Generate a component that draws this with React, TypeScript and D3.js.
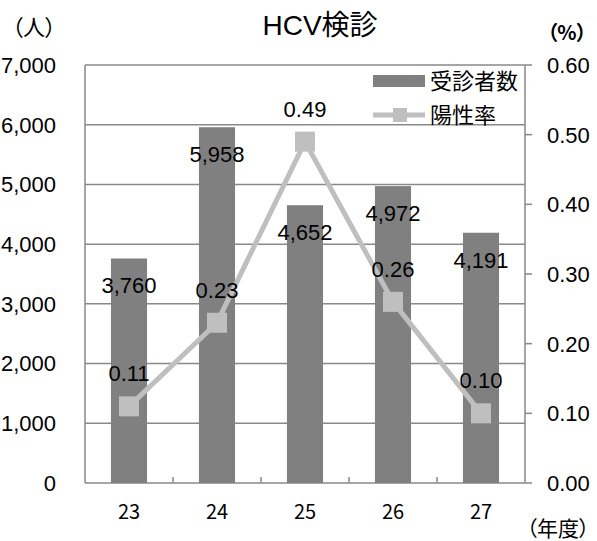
import React from "react";
import { scaleBand, scaleLinear, line } from "d3";

const years = ["23", "24", "25", "26", "27"];
const examinees = [3760, 5958, 4652, 4972, 4191];
const positiveRate = [0.11, 0.23, 0.49, 0.26, 0.1];
const leftTicks = [0, 1000, 2000, 3000, 4000, 5000, 6000, 7000];
const rightTicks = [0, 0.1, 0.2, 0.3, 0.4, 0.5, 0.6];

const W = 597;
const H = 541;
const margin = { top: 65, bottom: 58, left: 85, right: 72 };

const NUM_FONT = "'Liberation Sans', Arial, sans-serif";
const JP_FONT = "'Noto Sans CJK JP', sans-serif";

const App: React.FC = () => {
	const innerW = W - margin.left - margin.right;
	const innerH = H - margin.top - margin.bottom;

	const x = scaleBand().domain(years).range([0, innerW]).paddingInner(0).paddingOuter(0);
	const yL = scaleLinear().domain([0, 7000]).range([innerH, 0]);
	const yR = scaleLinear().domain([0, 0.6]).range([innerH, 0]);

	const barW = x.bandwidth() * 0.41;
	const cx = (d: string) => (x(d) || 0) + x.bandwidth() / 2;

	const ratePath = line<number>()
		.x((_, i) => cx(years[i]))
		.y((d) => yR(d))(positiveRate);

	const gridColor = "#898989";
	const barColor = "#808080";
	const lineColor = "#BFBFBF";

	return (
		<svg
			width={W}
			height={H}
			style={{ position: "absolute", left: 0, top: 0, background: "#fff" }}>
			{/* title and unit labels */}
			<text
				x={320}
				y={35}
				textAnchor="middle"
				fontSize={28}
				fontFamily={`'Liberation Sans', ${JP_FONT}`}
				fill="#000">
				HCV検診
			</text>
			<text
				x={34}
				y={35}
				textAnchor="middle"
				fontSize={22}
				fontFamily={JP_FONT}
				style={{ fontFeatureSettings: '"palt"' }}>
				（人）
			</text>
			<text
				x={567}
				y={40}
				textAnchor="middle"
				fontSize={20}
				fontWeight="bold"
				fontFamily={JP_FONT}
				style={{ fontFeatureSettings: '"palt"' }}>
				（%）
			</text>
			<text
				x={558}
				y={536}
				textAnchor="middle"
				fontSize={21}
				fontFamily={JP_FONT}
				style={{ fontFeatureSettings: '"palt"' }}>
				（年度）
			</text>

			<g transform={`translate(${margin.left}, ${margin.top})`}>
				{/* gridlines */}
				{leftTicks.map((t) => (
					<line
						key={t}
						x1={0}
						x2={innerW}
						y1={yL(t)}
						y2={yL(t)}
						stroke={gridColor}
						strokeWidth={1.5}
					/>
				))}
				{/* axes */}
				<line x1={0} x2={0} y1={0} y2={innerH} stroke={gridColor} strokeWidth={1.5} />
				<line x1={innerW} x2={innerW} y1={0} y2={innerH} stroke={gridColor} strokeWidth={1.5} />
				{rightTicks.map((t) => (
					<line
						key={t}
						x1={innerW}
						x2={innerW + 7}
						y1={yR(t)}
						y2={yR(t)}
						stroke={gridColor}
						strokeWidth={1.5}
					/>
				))}
				{years.slice(1).map((d) => (
					<line
						key={d}
						x1={x(d) || 0}
						x2={x(d) || 0}
						y1={innerH}
						y2={innerH - 6}
						stroke={gridColor}
						strokeWidth={1.5}
					/>
				))}

				{/* left tick labels */}
				{leftTicks.map((t) => (
					<text
						key={t}
						x={-29}
						y={yL(t)}
						dy="0.36em"
						textAnchor="end"
						fontSize={22}
						fontFamily={NUM_FONT}>
						{t.toLocaleString("en-US")}
					</text>
				))}
				{/* right tick labels */}
				{rightTicks.map((t) => (
					<text
						key={t}
						x={innerW + 22}
						y={yR(t)}
						dy="0.36em"
						textAnchor="start"
						fontSize={22}
						fontFamily={NUM_FONT}>
						{t.toFixed(2)}
					</text>
				))}
				{/* x labels */}
				{years.map((d) => (
					<text
						key={d}
						x={cx(d)}
						y={innerH + 36}
						textAnchor="middle"
						fontSize={20}
						fontFamily={JP_FONT}>
						{d}
					</text>
				))}

				{/* bars */}
				{examinees.map((v, i) => (
					<rect
						key={i}
						x={cx(years[i]) - barW / 2}
						y={yL(v)}
						width={barW}
						height={innerH - yL(v)}
						fill={barColor}
					/>
				))}

				{/* bar labels */}
				{examinees.map((v, i) => (
					<text
						key={i}
						x={cx(years[i])}
						y={yL(v) + 27}
						dy="0.36em"
						textAnchor="middle"
						fontSize={22}
						fontFamily={NUM_FONT}>
						{v.toLocaleString("en-US")}
					</text>
				))}

				{/* rate line */}
				<path d={ratePath || ""} fill="none" stroke={lineColor} strokeWidth={5} />
				{positiveRate.map((v, i) => (
					<rect
						key={i}
						x={cx(years[i]) - 10}
						y={yR(v) - 10}
						width={20}
						height={20}
						fill={lineColor}
					/>
				))}
				{positiveRate.map((v, i) => (
					<text
						key={i}
						x={cx(years[i])}
						y={yR(v) - 33}
						dy="0.36em"
						textAnchor="middle"
						fontSize={22}
						fontFamily={NUM_FONT}>
						{v.toFixed(2)}
					</text>
				))}

				{/* legend */}
				<g transform={`translate(${288}, ${16})`}>
					<rect x={0} y={-6} width={52} height={12} fill={barColor} />
					<text x={57} y={0} dy="0.36em" fontSize={22} fontFamily={JP_FONT}>
						受診者数
					</text>
					<line x1={0} x2={52} y1={34} y2={34} stroke={lineColor} strokeWidth={5} />
					<rect x={20} y={27} width={14} height={14} fill={lineColor} />
					<text x={57} y={34} dy="0.36em" fontSize={22} fontFamily={JP_FONT}>
						陽性率
					</text>
				</g>
			</g>
		</svg>
	);
};

export default App;
